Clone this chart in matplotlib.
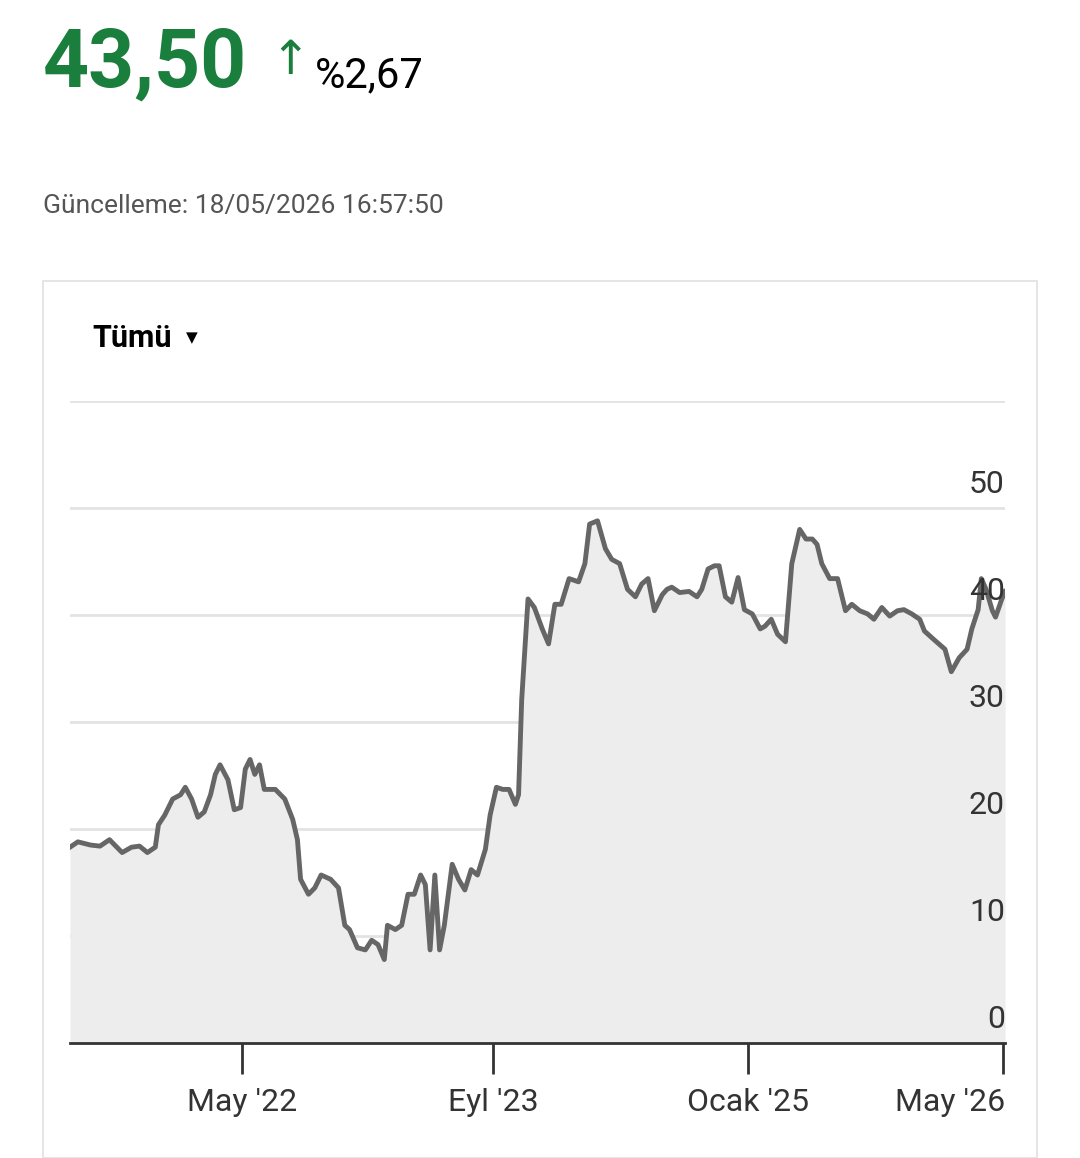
import matplotlib
matplotlib.use("Agg")
import matplotlib.pyplot as plt
from matplotlib.patches import Rectangle

months = [0,0.5,1.3,1.9,2.5,3.3,3.9,4.4,4.9,5.4,5.6,6.0,6.5,7.0,7.3,7.7,8.1,8.5,8.9,9.2,9.5,10.0,10.4,10.8,11.1,11.4,11.7,12.0,12.3,13.0,13.6,14.1,14.4,14.6,15.1,15.5,15.9,16.5,17.0,17.4,17.7,18.2,18.7,19.1,19.5,19.9,20.1,20.6,21.0,21.4,21.8,22.2,22.5,22.8,23.1,23.4,23.7,24.2,24.6,25.0,25.4,25.8,26.3,26.6,27.0,27.4,27.8,28.2,28.4,28.6,29.0,29.4,29.9,30.3,30.7,31.1,31.6,32.2,32.6,32.9,33.4,33.9,34.3,34.8,35.3,35.8,36.2,36.6,37.0,37.5,37.8,38.1,38.6,39.2,39.7,40.0,40.4,40.8,41.1,41.5,41.9,42.3,42.7,43.2,43.7,44.0,44.4,44.8,45.3,45.7,46.2,46.6,47.0,47.3,47.6,48.1,48.6,49.1,49.5,50.0,50.5,50.9,51.4,51.9,52.4,52.8,53.3,53.8,54.1,54.7,55.4,55.8,56.3,56.8,57.1,57.5,57.7,58.0,58.4,58.6,59.0,59.2]
prices = [18.3,18.8,18.5,18.4,19.0,17.8,18.3,18.4,17.8,18.3,20.4,21.3,22.8,23.2,23.9,22.8,21.1,21.6,23.2,25.1,26.0,24.6,21.8,22.0,25.6,26.5,25.1,26.0,23.7,23.7,22.8,20.9,19.0,15.3,13.9,14.5,15.7,15.3,14.5,11.0,10.6,8.9,8.7,9.6,9.2,7.8,11.0,10.6,11.0,13.9,13.9,15.7,14.8,8.7,15.7,8.7,11.0,16.7,15.3,14.3,16.2,15.7,18.1,21.3,23.9,23.7,23.7,22.3,23.2,32.1,41.5,40.7,38.7,37.3,41.0,41.0,43.4,43.1,44.8,48.5,48.8,46.2,45.2,44.8,42.4,41.7,42.9,43.4,40.4,41.9,42.4,42.6,42.1,42.2,41.7,42.4,44.3,44.6,44.6,41.7,41.2,43.5,40.5,40.1,38.7,38.95,39.6,38.2,37.5,44.8,48.0,47.1,47.1,46.6,44.8,43.4,43.4,40.4,41.0,40.4,40.1,39.6,40.7,39.9,40.4,40.5,40.1,39.6,38.5,37.7,36.8,34.7,36.0,36.8,38.7,40.5,43.4,42.4,40.4,39.8,41.5,42.2]
tick_pos = [10.9, 26.8, 42.9, 59.1]
tick_labels = ["May '22", "Eyl '23", "Ocak '25", "May '26"]
yticks = [0, 10, 20, 30, 40, 50]

plt.rcParams['font.family'] = ['Roboto', 'DejaVu Sans']
W, H = 1080, 1158
fig = plt.figure(figsize=(W/100, H/100), dpi=100)
fig.patches.append(Rectangle((43/W, 0), (1037-43)/W, 1-281/H, transform=fig.transFigure,
                             fill=False, edgecolor='#e0e0e0', lw=1.2))
fig.text(43/W, 1-65/H, "43,50", fontsize=58, fontweight='bold', color='#1a7f3c', va='center')
fig.text(290/W, 1-62/H, "↑", fontsize=34, color='#1a7f3c', va='center', ha='center',
         family=['DejaVu Sans'])
fig.text(315/W, 1-76/H, "%2,67", fontsize=30, color='black', va='center')
fig.text(43/W, 1-206/H, "Güncelleme: 18/05/2026 16:57:50", fontsize=19, color='#555555', va='center')
fig.text(92/W, 1-338/H, "Tümü", fontsize=22, fontweight='bold', color='black', va='center')
fig.text(186/W, 1-338/H, "▼", fontsize=11, color='black', va='center', family=['DejaVu Sans'])

ax = fig.add_axes([70/W, 1-1043/H, 935/W, 642/H])
ax.fill_between(months, prices, 0, color='#ededed', lw=0)
ax.plot(months, prices, color='#666666', lw=3.5, solid_joinstyle='round')
ax.set_xlim(0, 59.2)
ax.set_ylim(0, 60)
for s in ['top', 'right', 'left']:
    ax.spines[s].set_visible(False)
ax.spines['bottom'].set_color('#333333')
ax.spines['bottom'].set_linewidth(2)
for v in yticks[1:] + [60]:
    ax.axhline(v, color='#e3e3e3', lw=2, zorder=0)
for v in yticks:
    ax.text(59.2, v + 0.8, str(v), ha='right', va='bottom', fontsize=23, color='#333333')
ax.set_yticks([])
ax.set_xticks(tick_pos)
ax.set_xticklabels([])
ax.tick_params(axis='x', length=22, width=2, color='#333333', direction='out')
for p, l in zip(tick_pos, tick_labels):
    ha = 'right' if p > 58 else 'center'
    ax.text(p + (0.1 if ha == 'right' else 0), -5.6, l, ha=ha, va='center', fontsize=23,
            color='#333333', transform=ax.transData, clip_on=False)
fig.savefig("out.png", dpi=100)
